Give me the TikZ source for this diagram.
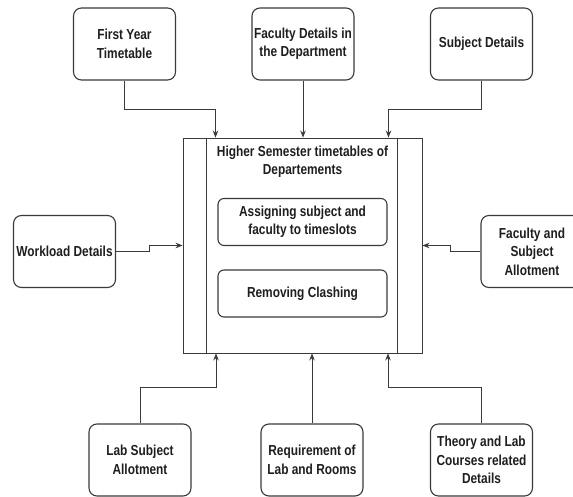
\documentclass[tikz,border=0pt]{standalone}
\usepackage{fontspec}
\setmainfont{Liberation Sans}[FakeStretch=0.82]
\usetikzlibrary{arrows.meta}
\definecolor{edge}{HTML}{3A3A3A}
\definecolor{ink}{HTML}{1E1E1E}
\tikzset{
 infobox/.style={draw=edge, line width=1.1pt, rounded corners=8pt, inner sep=0,
  minimum width=102pt, minimum height=72pt, align=center, text=ink,
  font=\fontsize{14.5}{18.5}\selectfont\bfseries},
 taskbox/.style={infobox, rounded corners=6pt, minimum width=169pt, minimum height=47pt},
 flow/.style={draw=edge, line width=0.9pt, -{Stealth[length=7pt,width=5.5pt]}}
}
\begin{document}
\begin{tikzpicture} [x=1pt, y=-1pt]
\useasboundingbox (0,0) rectangle (573,497);
\node[infobox, line width=0.9pt, minimum width=239pt, minimum height=215pt, rounded corners=0] (main) at (302.5,245.5) {};
\draw[edge, line width=0.9pt] ([xshift=24pt]main.north west) -- ([xshift=24pt]main.south west);
\draw[edge, line width=0.9pt] ([xshift=-25pt]main.north east) -- ([xshift=-25pt]main.south east);
\node[text=ink, align=center, font=\fontsize{14.5}{18.5}\selectfont\bfseries] (title) at (302.5,162) {Higher Semester timetables of\\Departements};
\node[taskbox] (assign) at (302.5,222) {Assigning subject and\\faculty to timeslots};
\node[taskbox] (clash) at (302.5,293.5) {Removing Clashing};

\node[infobox] (fy) at (124.5,44) {First Year\\Timetable};
\node[infobox] (fd) at (303,44) {Faculty Details in\\the Department};
\node[infobox] (sd) at (481.5,44) {Subject Details};
\node[infobox] (wl) at (64.5,251.5) {Workload Details};
\node[infobox] (fa) at (532,251.5) {Faculty and\\Subject\\Allotment};
\node[infobox] (lab) at (140,460) {Lab Subject\\Allotment};
\node[infobox] (req) at (312,460) {Requirement of\\Lab and Rooms};
\node[infobox] (th) at (481.5,460) {Theory and Lab\\Courses related\\Details};

\coordinate (inL) at ([xshift=-87pt]main.north);
\coordinate (inR) at ([xshift=86pt]main.north);
\coordinate (outL) at ([xshift=-86.5pt]main.south);
\coordinate (outR) at ([xshift=85.5pt]main.south);

\draw[flow] (fy.south) -- ++(0,29) -| (inL);
\draw[flow] (fd.south) -- (fd.south |- main.north);
\draw[flow] (sd.south) -- ++(0,29) -| (inR);
\draw[flow] (wl.east) -- ++(33,0) |- (main.west);
\draw[flow] (fa.west) -- ++(-30,0) |- (main.east);
\draw[flow] (lab.north) -- ++(0,-36) -| (outL);
\draw[flow] (req.north) -- (req.north |- main.south);
\draw[flow] (th.north) -- ++(0,-36) -| (outR);
\end{tikzpicture}
\end{document}
